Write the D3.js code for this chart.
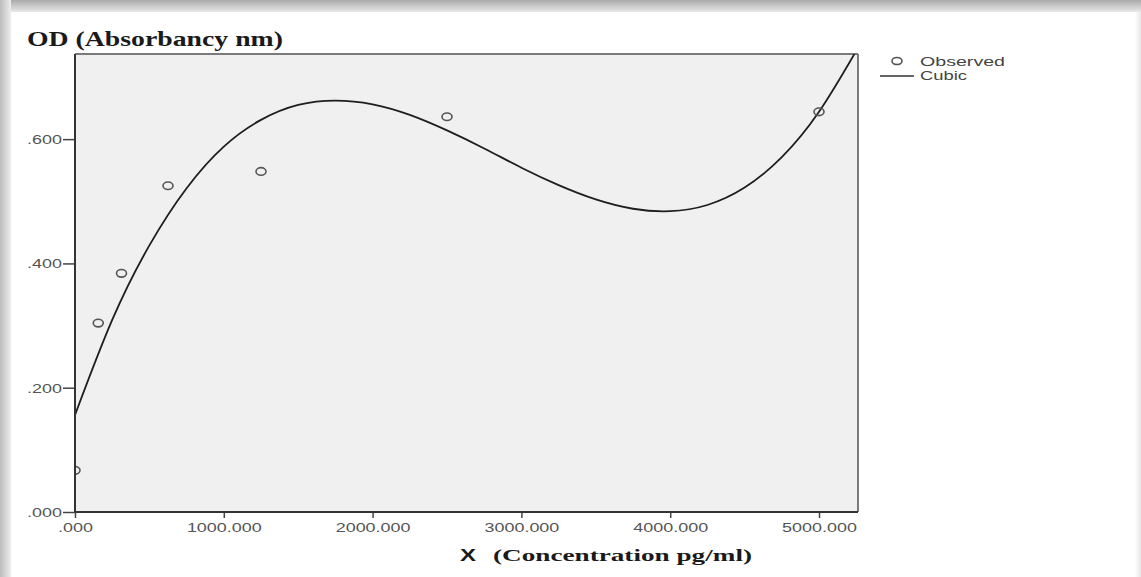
<!DOCTYPE html>
<html>
<head>
<meta charset="utf-8">
<script src="https://cdn.jsdelivr.net/npm/d3@7"></script>
<style>
  html, body { margin: 0; padding: 0; background: #fff; }
  svg { display: block; }
  .tick text { font-family: "Liberation Sans", Arial, sans-serif; fill: #555; }
</style>
</head>
<body>
<div id="chart"></div>
<script>
// observed points (concentration pg/ml -> OD)
const obsX = [0, 156.25, 312.5, 625, 1250, 2500, 5000];
const obsY = [0.067, 0.304, 0.384, 0.525, 0.548, 0.636, 0.644];

// cubic fit line, every 250 pg/ml
const fitX = [0, 250, 500, 750, 1000, 1250, 1500, 1750, 2000, 2250, 2500, 2750,
  3000, 3250, 3500, 3750, 4000, 4250, 4500, 4750, 5000, 5250];
const fitY = [0.156, 0.309, 0.429, 0.521, 0.588, 0.631, 0.655, 0.662, 0.656, 0.639, 0.614, 0.585,
  0.554, 0.526, 0.503, 0.488, 0.484, 0.494, 0.522, 0.571, 0.644, 0.742];

const xTicks = [0, 1000, 2000, 3000, 4000, 5000];
const yTicks = [0, 0.2, 0.4, 0.6];
const xDomain = [0, 5262];
const yDomain = [0, 0.737];

const W = 1141, H = 577;
const plot = { left: 75, right: 858, top: 54, bottom: 512 };

const svg = d3.select('#chart').append('svg')
  .attr('width', W)
  .attr('height', H);

const defs = svg.append('defs');

// shadow frame around the screenshot
const gTop = defs.append('linearGradient').attr('id', 'gTop')
  .attr('x1', 0).attr('y1', 0).attr('x2', 0).attr('y2', 1);
gTop.append('stop').attr('offset', '0%').attr('stop-color', '#aaaaaa');
gTop.append('stop').attr('offset', '100%').attr('stop-color', '#e8e8e8');

const gLeft = defs.append('linearGradient').attr('id', 'gLeft')
  .attr('x1', 0).attr('y1', 0).attr('x2', 1).attr('y2', 0);
gLeft.append('stop').attr('offset', '0%').attr('stop-color', '#bcbcbc');
gLeft.append('stop').attr('offset', '100%').attr('stop-color', '#eeeeee');

const gRight = defs.append('linearGradient').attr('id', 'gRight')
  .attr('x1', 0).attr('y1', 0).attr('x2', 1).attr('y2', 0);
gRight.append('stop').attr('offset', '0%').attr('stop-color', '#ffffff');
gRight.append('stop').attr('offset', '100%').attr('stop-color', '#e6e6e6');

svg.append('rect').attr('x', 0).attr('y', 0).attr('width', W).attr('height', 12).attr('fill', 'url(#gTop)');
svg.append('rect').attr('x', 0).attr('y', 0).attr('width', 11).attr('height', H).attr('fill', 'url(#gLeft)');
svg.append('rect').attr('x', W - 6).attr('y', 12).attr('width', 6).attr('height', H - 12).attr('fill', 'url(#gRight)');

defs.append('clipPath').attr('id', 'plotClip')
  .append('rect')
  .attr('x', plot.left + 1).attr('y', plot.top)
  .attr('width', plot.right - plot.left - 1)
  .attr('height', plot.bottom - plot.top);

const x = d3.scaleLinear().domain(xDomain).range([plot.left, plot.right]);
const y = d3.scaleLinear().domain(yDomain).range([plot.bottom, plot.top]);

// plot background
svg.append('rect')
  .attr('x', plot.left).attr('y', plot.top)
  .attr('width', plot.right - plot.left)
  .attr('height', plot.bottom - plot.top)
  .attr('fill', '#f0f0f0');

const fmt = d => d3.format('.3f')(d).replace(/^0\./, '.');

// axes
const xAxis = svg.append('g')
  .attr('transform', `translate(0,${plot.bottom})`)
  .call(d3.axisBottom(x).tickValues(xTicks).tickFormat(fmt).tickSize(6).tickPadding(4));
const yAxis = svg.append('g')
  .attr('transform', `translate(${plot.left},0)`)
  .call(d3.axisLeft(y).tickValues(yTicks).tickFormat(fmt).tickSize(12).tickPadding(1));

[xAxis, yAxis].forEach(a => {
  a.select('.domain').remove();
  a.selectAll('line').attr('stroke', '#444').attr('stroke-width', 1.5);
  a.selectAll('text').style('font-size', '13.5px');
});
// stretch labels sideways like the source, keeping each anchor in place
xAxis.selectAll('text').attr('transform', 'scale(1.33,1)');
yAxis.selectAll('text')
  .attr('transform', 'translate(-13,0) scale(1.33,1) translate(13,0)');

// frame
svg.append('line')
  .attr('x1', plot.left).attr('x2', plot.right)
  .attr('y1', plot.top).attr('y2', plot.top)
  .attr('stroke', '#7a7a7a').attr('stroke-width', 2);
svg.append('line')
  .attr('x1', plot.right).attr('x2', plot.right)
  .attr('y1', plot.top).attr('y2', plot.bottom)
  .attr('stroke', '#7a7a7a').attr('stroke-width', 2);

const body = svg.append('g').attr('clip-path', 'url(#plotClip)');

// cubic line
const line = d3.line()
  .x((d, i) => x(fitX[i]))
  .y(d => y(d))
  .curve(d3.curveNatural);

body.append('path')
  .datum(fitY)
  .attr('d', line)
  .attr('fill', 'none')
  .attr('stroke', '#1e1e1e')
  .attr('stroke-width', 1.8);

// observed points
body.selectAll('ellipse.obs')
  .data(obsY)
  .join('ellipse')
  .attr('class', 'obs')
  .attr('cx', (d, i) => x(obsX[i]))
  .attr('cy', d => y(d))
  .attr('rx', 5)
  .attr('ry', 3.8)
  .attr('fill', 'none')
  .attr('stroke', '#555')
  .attr('stroke-width', 1.6);

// axis lines (left and bottom)
svg.append('line')
  .attr('x1', plot.left).attr('x2', plot.left)
  .attr('y1', plot.top).attr('y2', plot.bottom)
  .attr('stroke', '#333').attr('stroke-width', 2);
svg.append('line')
  .attr('x1', plot.left).attr('x2', plot.right)
  .attr('y1', plot.bottom).attr('y2', plot.bottom)
  .attr('stroke', '#333').attr('stroke-width', 2);

// titles
svg.append('text')
  .attr('x', 27).attr('y', 46)
  .attr('textLength', 256).attr('lengthAdjust', 'spacingAndGlyphs')
  .style('font-family', '"Liberation Serif", "Times New Roman", serif')
  .style('font-weight', 'bold')
  .style('font-size', '21px')
  .attr('fill', '#1a1a1a')
  .text('OD (Absorbancy nm)');

svg.append('text')
  .attr('x', 460).attr('y', 561)
  .attr('textLength', 16).attr('lengthAdjust', 'spacingAndGlyphs')
  .style('font-family', '"Liberation Sans", Arial, sans-serif')
  .style('font-weight', 'bold')
  .style('font-size', '16px')
  .attr('fill', '#1a1a1a')
  .text('X');

svg.append('text')
  .attr('x', 493).attr('y', 561)
  .attr('textLength', 259).attr('lengthAdjust', 'spacingAndGlyphs')
  .style('font-family', '"Liberation Serif", "Times New Roman", serif')
  .style('font-weight', 'bold')
  .style('font-size', '17px')
  .attr('fill', '#1a1a1a')
  .text('(Concentration pg/ml)');

// legend
const legend = svg.append('g');
legend.append('ellipse')
  .attr('cx', 897).attr('cy', 61)
  .attr('rx', 5).attr('ry', 3.5)
  .attr('fill', 'none').attr('stroke', '#555').attr('stroke-width', 1.6);
legend.append('line')
  .attr('x1', 880).attr('x2', 914)
  .attr('y1', 76).attr('y2', 76)
  .attr('stroke', '#333').attr('stroke-width', 1.5);
legend.append('text')
  .attr('x', 920).attr('y', 66)
  .attr('textLength', 85).attr('lengthAdjust', 'spacingAndGlyphs')
  .style('font-family', '"Liberation Sans", Arial, sans-serif')
  .style('font-size', '12.5px')
  .attr('fill', '#444')
  .text('Observed');
legend.append('text')
  .attr('x', 920).attr('y', 80)
  .attr('textLength', 47).attr('lengthAdjust', 'spacingAndGlyphs')
  .style('font-family', '"Liberation Sans", Arial, sans-serif')
  .style('font-size', '12.5px')
  .attr('fill', '#444')
  .text('Cubic');
</script>
</body>
</html>
